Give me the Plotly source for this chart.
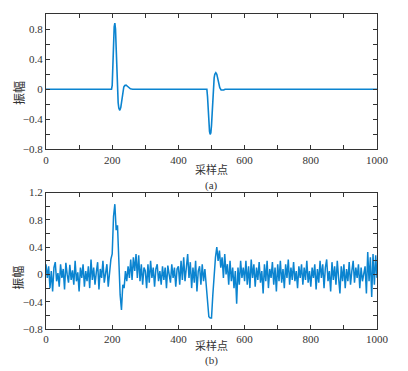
import plotly.graph_objects as go

# ---- panel (a): clean signal (sample index, amplitude) ----
clean_x = [0, 198, 200, 202, 204, 206, 208, 210, 212, 214, 216, 218, 220, 223, 226, 229, 232,
           235, 238, 242, 246, 250, 255, 262,
           486, 488, 490, 492, 494, 496, 498, 500, 502, 504, 506, 508, 510, 513, 516, 519,
           522, 525, 529, 533, 537, 541, 546, 1000]
clean_y = [0, 0, 0.05, 0.35, 0.65, 0.83, 0.88, 0.8, 0.55, 0.25, -0.02, -0.18, -0.25, -0.28,
           -0.24, -0.14, -0.03, 0.03, 0.05, 0.055, 0.04, 0.02, 0.005, 0,
           0, -0.1, -0.3, -0.47, -0.56, -0.6, -0.58, -0.48, -0.3, -0.1, 0.05, 0.15, 0.2, 0.22,
           0.2, 0.14, 0.07, 0.02, -0.01, -0.015, -0.01, 0.0, 0.0, 0]

# ---- panel (b): noisy signal, every 4th sample ----
noisy_x = list(range(0, 1001, 4))
noisy_y = [
    0.15, -0.05, 0.12, -0.2, 0.05, -0.25, 0.1, 0.18, -0.1, 0.02, -0.18, 0.15, -0.05, 0.08, -0.22, 0.17, 0.0, -0.12, 0.14, -0.08, 0.06, -0.15, 0.2, -0.1, 0.03,
    -0.25, 0.1, -0.05, 0.15, -0.18, 0.05, -0.1, 0.12, -0.2, 0.22, -0.08, 0.1, -0.15, 0.03, 0.18, -0.22, 0.08, -0.05, 0.2, -0.12, 0.0, 0.15, -0.18, 0.05, 0.22,
    0.3, 0.85, 1.03, 0.65, 0.72, 0.2, -0.3, -0.52, -0.15, -0.2, 0.05, -0.1, 0.12, -0.05, 0.22, -0.08, 0.25, 0.05, 0.3, -0.05, 0.28, -0.1, 0.15, -0.15, 0.1,
    0.05, -0.2, 0.15, -0.12, 0.2, -0.05, 0.1, -0.18, 0.08, 0.15, -0.1, 0.05, -0.15, 0.12, -0.08, 0.1, -0.2, 0.13, 0.0, -0.12, 0.15, -0.05, 0.1, -0.18, 0.08,
    0.12, -0.15, 0.2, -0.08, 0.25, -0.1, 0.15, 0.3, -0.05, 0.18, -0.2, 0.1, -0.12, 0.2, -0.25, 0.05, 0.12, -0.15, 0.15, -0.1, 0.08, -0.2, -0.4, -0.62, -0.64,
    -0.64, -0.3, 0.05, 0.25, 0.4, 0.2, 0.35, 0.1, 0.25, -0.05, 0.3, 0.0, 0.15, -0.15, 0.2, -0.1, 0.1, -0.2, 0.05, -0.43, 0.1, -0.15, 0.2, -0.05, 0.1,
    -0.1, 0.2, -0.15, 0.12, -0.2, 0.22, -0.05, 0.15, -0.18, 0.1, -0.08, 0.18, -0.12, 0.05, -0.28, 0.15, -0.1, 0.2, -0.2, 0.08, -0.05, 0.18, -0.15, 0.1, -0.25,
    0.15, -0.1, 0.2, -0.12, 0.08, -0.2, 0.15, -0.05, 0.22, -0.15, 0.1, -0.08, 0.18, -0.1, 0.05, -0.2, 0.12, -0.05, 0.15, -0.15, 0.1, -0.08, 0.2, -0.12, 0.05,
    -0.18, 0.1, -0.05, 0.15, -0.22, 0.08, -0.12, 0.2, -0.05, 0.15, -0.2, 0.1, 0.22, -0.1, 0.05, -0.25, 0.18, -0.08, 0.12, -0.15, 0.2, -0.05, -0.28, 0.12, -0.1,
    0.15, -0.2, 0.08, -0.1, 0.18, -0.15, 0.05, 0.2, -0.12, 0.1, -0.05, 0.15, -0.2, 0.1, -0.1, 0.05, 0.12, -0.28, 0.33, -0.1, 0.25, -0.33, 0.3, -0.15, 0.28,
    -0.05,
]

# ---- tick definitions ----
x_tickvals = [0, 100, 200, 300, 400, 500, 600, 700, 800, 900, 1000]
x_ticktext = ["0", "", "200", "", "400", "", "600", "", "800", "", "1000"]
ya_tickvals = [-0.8, -0.6, -0.4, -0.2, 0, 0.2, 0.4, 0.6, 0.8, 1.0]
ya_ticktext = ["\u22120.8", "", "\u22120.4", "", "0", "", "0.4", "", "0.8", ""]
yb_tickvals = [-0.8, -0.6, -0.4, -0.2, 0, 0.2, 0.4, 0.6, 0.8, 1.0, 1.2]
yb_ticktext = ["\u22120.8", "", "\u22120.4", "", "0", "", "0.4", "", "0.8", "", "1.2"]

LINE = "#0b84d0"
AX = "#333333"
FONT = "'Liberation Serif', 'Times New Roman', serif"
CJK = "'Noto Sans CJK SC'"

fig = go.Figure()
fig.add_trace(go.Scatter(x=clean_x, y=clean_y, mode="lines", line=dict(color=LINE, width=1.6),
                         xaxis="x", yaxis="y", showlegend=False))
fig.add_trace(go.Scatter(x=noisy_x, y=noisy_y, mode="lines", line=dict(color=LINE, width=1.5),
                         xaxis="x2", yaxis="y2", showlegend=False))

common_axis = dict(showgrid=False, zeroline=False, showline=True, linecolor=AX, linewidth=1,
                   mirror="ticks", ticks="inside", ticklen=4, tickcolor=AX, tickwidth=1,
                   tickfont=dict(family=FONT, size=11, color="#333333"))

# page body has an 8px margin, so the figure is drawn 8px in from the top-left
fig.update_layout(
    width=400, height=363,
    margin=dict(l=38, r=31, t=0, b=42),
    paper_bgcolor="white", plot_bgcolor="white",
    xaxis=dict(domain=[0, 1], range=[0, 1000], anchor="y", tickvals=x_tickvals,
               ticktext=x_ticktext, **common_axis),
    yaxis=dict(domain=[0.570, 1], range=[-0.8, 1.0], anchor="x", tickvals=ya_tickvals,
               ticktext=ya_ticktext, **common_axis),
    xaxis2=dict(domain=[0, 1], range=[0, 1000], anchor="y2", tickvals=x_tickvals,
                ticktext=x_ticktext, **common_axis),
    yaxis2=dict(domain=[0, 0.433], range=[-0.8, 1.2], anchor="x2", tickvals=yb_tickvals,
                ticktext=yb_ticktext, **common_axis),
)

ann_font_cjk = dict(family=CJK, size=11, color="#333333")
ann_font = dict(family=FONT, size=11, color="#333333")
for y0, s1, s2 in [(0.570, -20, -36), (0, -16, -31)]:
    fig.add_annotation(text="采样点", xref="paper", yref="paper", x=0.5, y=y0, yshift=s1,
                       showarrow=False, font=ann_font_cjk, yanchor="middle", borderpad=0)
for y0, s2, lab in [(0.570, -36, "(a)"), (0, -31, "(b)")]:
    fig.add_annotation(text=lab, xref="paper", yref="paper", x=0.5, y=y0, yshift=s2,
                       showarrow=False, font=ann_font, yanchor="middle", borderpad=0)
fig.add_annotation(text="振幅", xref="paper", yref="y", x=0, y=-0.05, xshift=-28,
                   showarrow=False, font=dict(family=CJK, size=12, color="#333333"),
                   textangle=-90, xanchor="center")
fig.add_annotation(text="振幅", xref="paper", yref="y2", x=0, y=-0.05, xshift=-28,
                   showarrow=False, font=dict(family=CJK, size=12, color="#333333"),
                   textangle=-90, xanchor="center")

fig.write_html("out.html")
